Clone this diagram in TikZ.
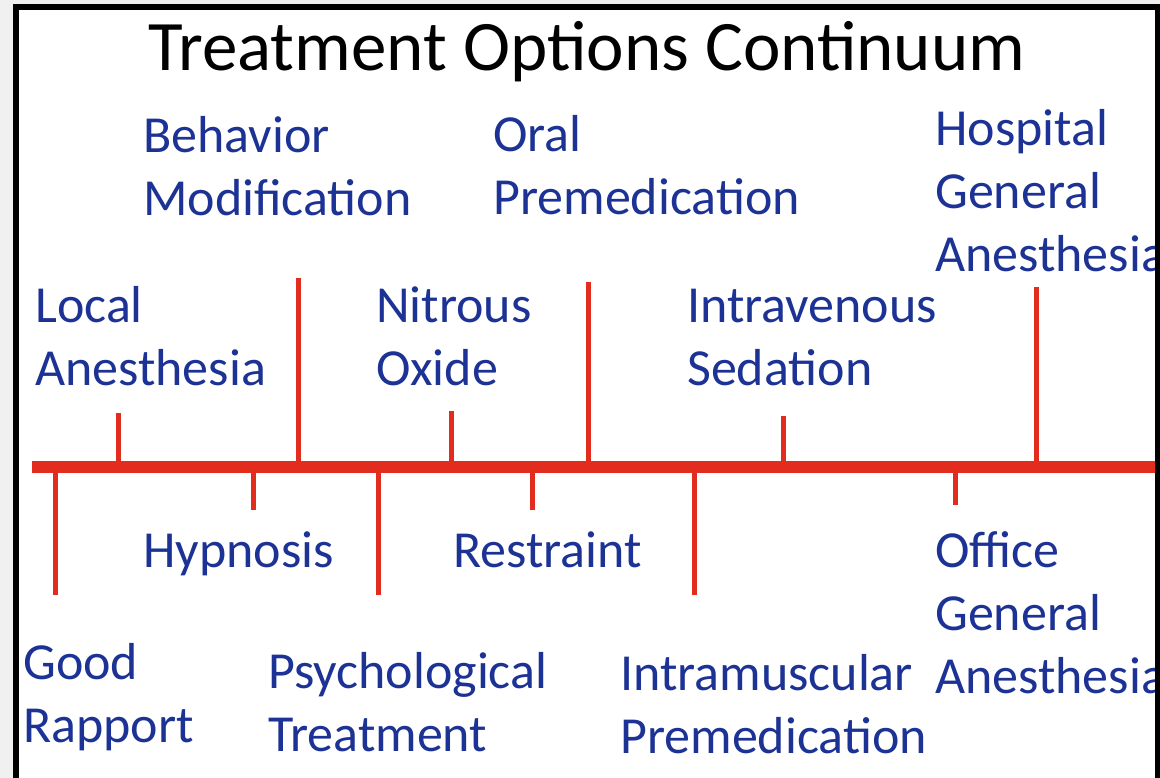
\documentclass[tikz,border=0pt]{standalone}
\usepackage{fontspec}
\setmainfont{Carlito}
\definecolor{lblue}{RGB}{28,50,148}
\definecolor{lred}{RGB}{226,45,30}
\definecolor{outgrey}{RGB}{240,240,240}
\begin{document}
\begin{tikzpicture}[x=1pt,y=-1pt,
  lbl/.style={anchor=base west, inner sep=0pt, align=left, text=lblue, font=\fontsize{52}{63}\selectfont},
  titlestyle/.style={anchor=base west, inner sep=0pt, font=\fontsize{71}{84}\selectfont},
  tickline/.style={draw=lred, line width=5pt},
  axisline/.style={draw=lred, line width=12pt},
  frameline/.style={draw=black, line width=6pt}]
\useasboundingbox (0,0) rectangle (1160,778);
\clip (0,0) rectangle (1160,778);
\fill[outgrey] (0,0) rectangle (1160,778);
\fill[white] (16,7) rectangle (1158,800);

\node[titlestyle] (title) at (148,71) {Treatment Options Continuum};

% labels above (anchor = baseline of last line)
\node[lbl] (behav) at (143,216) {Behavior\\Modification};
\node[lbl] (oral) at (493,215) {Oral\\Premedication};
\node[lbl] (hosp) at (935,272) {Hospital\\General\\Anesthesia};
\node[lbl] (local) at (35,385) {Local\\Anesthesia};
\node[lbl] (nitrous) at (376,385) {Nitrous\\Oxide};
\node[lbl] (iv) at (687,385) {Intravenous\\Sedation};
% labels below
\node[lbl] (hyp) at (143,567) {Hypnosis};
\node[lbl] (restr) at (453,567) {Restraint};
\node[lbl] (office) at (935,693) {Office\\General\\Anesthesia};
\node[lbl] (good) at (23,742) {Good\\Rapport};
\node[lbl] (psych) at (268,751) {Psychological\\Treatment};
\node[lbl] (im) at (620,753) {Intramuscular\\Premedication};

% axis
\coordinate (a0) at (32,467);
\coordinate (a1) at (1170,467);
\draw[axisline] (a0) -- (a1);

% ticks
\foreach \n/\x/\y in {good/55/595, localt/118/413, hypt/253/510, behavt/298/278,
  psycht/378/595, nitroust/451/411, restrt/532/510, oralt/588/282,
  imt/694/595, ivt/783/416, officet/955/505, hospt/1036/287}{
  \coordinate (s-\n) at (\x,467);
  \coordinate (e-\n) at (\x,\y);
  \draw[tickline] (s-\n) -- (e-\n);
}

% frame
\draw[frameline] (16,7) rectangle (1158,800);
\end{tikzpicture}
\end{document}
